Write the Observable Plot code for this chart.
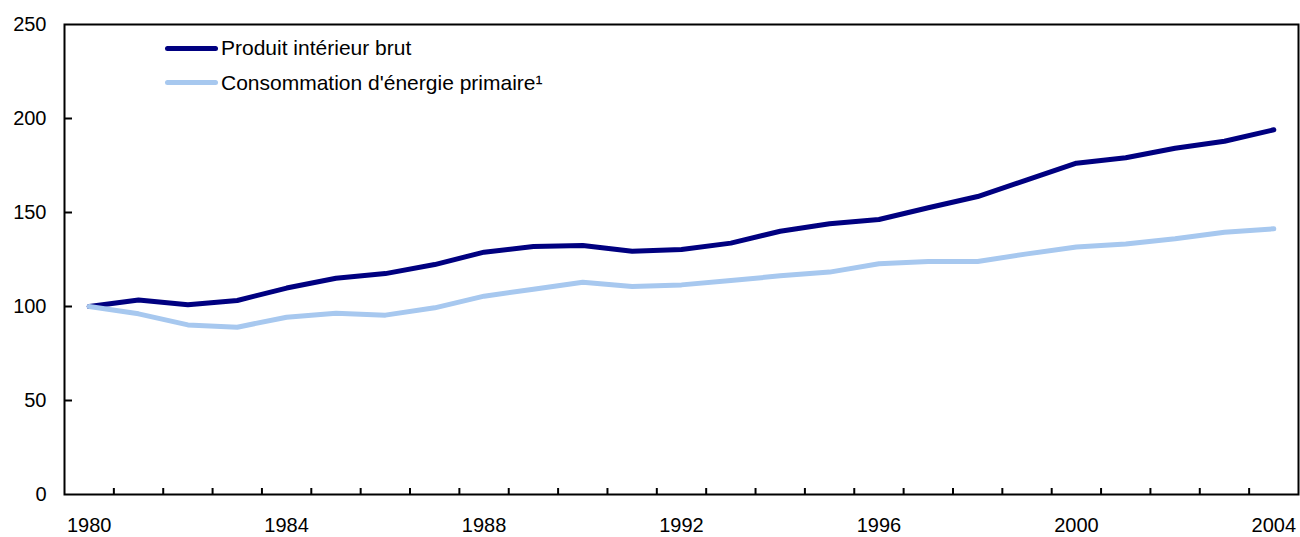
<!DOCTYPE html>
<html>
<head>
<meta charset="utf-8">
<script src="https://cdn.jsdelivr.net/npm/d3@7"></script>
<script src="https://cdn.jsdelivr.net/npm/@observablehq/plot@0.6"></script>
<style>
  html, body { margin: 0; padding: 0; background: #fff; }
  #wrap { position: relative; width: 1300px; height: 537px; font-family: "Liberation Sans", Arial, Helvetica, sans-serif; }
  #legend { position: absolute; left: 165px; top: 31px; font-size: 21px; color: #000; }
  .item { display: flex; align-items: center; height: 34.5px; }
  .swatch { width: 53px; height: 5px; border-radius: 2.5px; margin-right: 3px; }
</style>
</head>
<body>
<div id="wrap"><div id="legend"></div></div>
<script>
const years = [1980,1981,1982,1983,1984,1985,1986,1987,1988,1989,1990,1991,1992,1993,1994,1995,1996,1997,1998,1999,2000,2001,2002,2003,2004];
const gdp = [100,103.5,100.9,103.2,109.8,115,117.5,122.3,128.9,131.9,132.4,129.4,130.3,133.7,140,144,146.3,152.5,158.5,167.4,176.2,179.1,184.2,187.9,194];
const energy = [100,96.1,90.2,89,94.3,96.4,95.4,99.3,105.5,109.2,112.9,110.6,111.5,113.8,116.3,118.3,122.7,123.9,123.9,128,131.6,133.3,136,139.5,141.3];
const seriesNames = ["Produit intérieur brut", "Consommation d'énergie primaire¹"];
const seriesColors = ["#000080", "#a7c8ef"];
const yTicks = [0,50,100,150,200,250];
const yInnerTicks = [50,100,150,200];
const xLabelYears = [1980,1984,1988,1992,1996,2000,2004];
const xTickBounds = years.slice(0, -1).map(y => y + 0.5);

const rows = [];
years.forEach((y, i) => {
  rows.push({year: y, value: gdp[i], series: seriesNames[0]});
  rows.push({year: y, value: energy[i], series: seriesNames[1]});
});

const chart = Plot.plot({
  width: 1300,
  height: 537,
  marginLeft: 64,
  marginRight: 2,
  marginTop: 24,
  marginBottom: 43,
  style: {fontFamily: '"Liberation Sans", Arial, Helvetica, sans-serif', fontSize: "20px", color: "#000", background: "#fff"},
  x: {domain: [1979.5, 2004.5], label: null},
  y: {domain: [0, 250], label: null},
  color: {domain: seriesNames, range: seriesColors},
  marks: [
    Plot.axisY({ticks: yTicks, tickSize: 0, tickPadding: 18, tickFormat: d => String(d), label: null}),
    Plot.axisY({ticks: yInnerTicks, tickSize: -8, text: null, strokeWidth: 2, label: null}),
    Plot.axisX({ticks: xLabelYears, tickSize: 0, tickPadding: 23, tickFormat: d => String(d), label: null}),
    Plot.axisX({ticks: xTickBounds, tickSize: -6, text: null, strokeWidth: 2, label: null}),
    Plot.line(rows, {x: "year", y: "value", z: "series", stroke: "series", strokeWidth: 5, strokeLinecap: "round", strokeLinejoin: "round"}),
    Plot.frame({stroke: "#000", strokeWidth: 2})
  ]
});
const wrap = document.getElementById("wrap");
wrap.insertBefore(chart, wrap.firstChild);

const legend = document.getElementById("legend");
seriesNames.forEach((name, i) => {
  const item = document.createElement("div");
  item.className = "item";
  const sw = document.createElement("span");
  sw.className = "swatch";
  sw.style.background = seriesColors[i];
  const t = document.createElement("span");
  t.textContent = name;
  item.appendChild(sw);
  item.appendChild(t);
  legend.appendChild(item);
});
</script>
</body>
</html>
